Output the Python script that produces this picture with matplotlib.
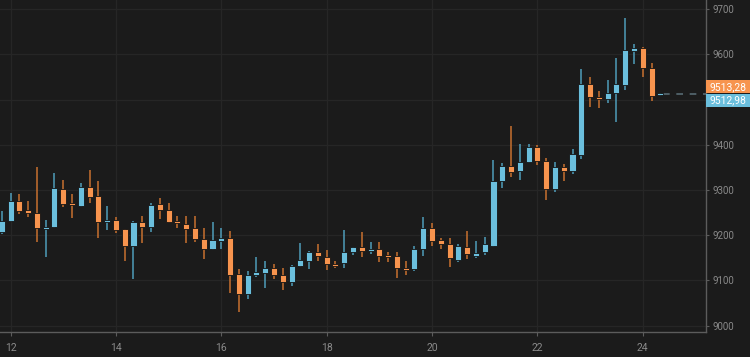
import numpy as np
import matplotlib
matplotlib.use("Agg")
import matplotlib.pyplot as plt
from matplotlib.patches import Rectangle

# 4h candles, first one at day 11 20:00
start_day = 11 + 20 / 24
step_day = 4 / 24

opens = [9207, 9232, 9275, 9255, 9249, 9213, 9219, 9302, 9271, 9265,
         9306, 9286, 9229, 9234, 9213, 9176, 9230, 9218, 9269, 9256,
         9232, 9226, 9215, 9191, 9170, 9188, 9194, 9114, 9070, 9112,
         9117, 9128, 9112, 9096, 9131, 9144, 9162, 9153, 9137, 9138,
         9163, 9174, 9165, 9170, 9156, 9155, 9128, 9125, 9170, 9216,
         9190, 9180, 9145, 9174, 9155, 9162, 9177, 9320, 9353, 9342,
         9361, 9396, 9364, 9302, 9351, 9343, 9378, 9535, 9506, 9502,
         9514, 9532, 9607, 9615, 9571, 9510.5]
highs = [9254, 9294, 9291, 9276, 9350, 9234, 9337, 9323, 9291, 9315,
         9344, 9320, 9265, 9240, 9214, 9232, 9243, 9272, 9283, 9272,
         9243, 9243, 9243, 9215, 9229, 9216, 9209, 9125, 9121, 9152,
         9142, 9136, 9127, 9134, 9183, 9166, 9181, 9168, 9143, 9212,
         9175, 9208, 9185, 9185, 9162, 9162, 9143, 9176, 9241, 9228,
         9193, 9193, 9181, 9210, 9187, 9197, 9366, 9360, 9442, 9401,
         9403, 9400, 9370, 9361, 9358, 9391, 9568, 9550, 9519, 9543,
         9593, 9680, 9623, 9616, 9581, 9514]
lows = [9203, 9230, 9246, 9241, 9186, 9153, 9215, 9263, 9239, 9263,
        9272, 9195, 9212, 9206, 9144, 9103, 9184, 9207, 9236, 9227,
        9215, 9184, 9186, 9148, 9167, 9169, 9072, 9030, 9059, 9108,
        9083, 9103, 9078, 9087, 9130, 9125, 9142, 9123, 9127, 9127,
        9156, 9153, 9159, 9140, 9140, 9105, 9111, 9120, 9155, 9176,
        9170, 9129, 9140, 9147, 9149, 9156, 9175, 9304, 9330, 9322,
        9359, 9355, 9278, 9296, 9319, 9335, 9368, 9484, 9482, 9492,
        9450, 9521, 9579, 9551, 9498, 9509]
closes = [9232, 9275, 9254, 9249, 9216, 9219, 9305, 9270, 9266, 9306,
          9285, 9229, 9234, 9212, 9176, 9230, 9218, 9268, 9256, 9230,
          9227, 9213, 9192, 9170, 9190, 9193, 9112, 9070, 9112, 9118,
          9128, 9111, 9096, 9131, 9145, 9162, 9154, 9136, 9131, 9162,
          9174, 9165, 9170, 9155, 9151, 9127, 9123, 9169, 9216, 9188,
          9181, 9149, 9176, 9158, 9160, 9180, 9320, 9353, 9341, 9361,
          9396, 9364, 9302, 9351, 9343, 9379, 9535, 9506, 9501, 9514,
          9535, 9609, 9614, 9571, 9508, 9512.98]

ask_price = 9513.28
last_price = 9512.98
x_ticks = [12, 14, 16, 18, 20, 22, 24]
y_ticks = [9000, 9100, 9200, 9300, 9400, 9500, 9600, 9700]

bg = "#1b1b1b"
up_col, up_wick = "#6bbfdd", "#4f9dba"
dn_col, dn_wick = "#f7944e", "#c8702f"

fig = plt.figure(figsize=(7.5, 3.57), dpi=100, facecolor=bg)
ax = fig.add_axes([0, 25 / 357, 706 / 750, 332 / 357], facecolor=bg)

o, h, l, c = map(np.array, (opens, highs, lows, closes))
t = start_day + np.arange(len(o)) * step_day
up = c >= o
body_cols = np.where(up, up_col, dn_col)
wick_cols = np.where(up, up_wick, dn_wick)

ax.vlines(t, l, h, colors=wick_cols, linewidth=1.1, zorder=2)
heights = np.maximum(np.abs(c - o), 3.5)
ax.bar(t, heights, bottom=np.minimum(o, c), width=0.115, color=body_cols,
       edgecolor="#141414", linewidth=0.6, zorder=3)

# dashed last-price line to the axis
ax.plot([t[-1] + 0.06, 25.3], [last_price, last_price], color="#566a72",
        linewidth=1.2, dashes=(4, 4), zorder=2)

ax.set_xlim(11.80, 25.20)
ax.set_ylim(8986, 9720.5)
ax.set_xticks(x_ticks)
ax.set_xticklabels([str(d) for d in x_ticks])
ax.set_yticks(y_ticks)
# the 9500 label sits under the price tags, so it is left blank
ax.set_yticklabels(["" if v == 9500 else str(v) for v in y_ticks])
ax.yaxis.tick_right()
ax.grid(color="#262626", linewidth=0.9, zorder=0)
for s in ("left", "top"):
    ax.spines[s].set_visible(False)
for s in ("bottom", "right"):
    ax.spines[s].set_color("#5c5c5c")
    ax.spines[s].set_linewidth(1.0)
ax.tick_params(axis="x", colors="#5c5c5c", labelcolor="#8a8a8a", length=3,
               pad=5, labelsize=7.5)
ax.tick_params(axis="y", colors="#5c5c5c", labelcolor="#8a8a8a", length=2,
               pad=3, labelsize=7)
for lab in ax.get_xticklabels() + ax.get_yticklabels():
    lab.set_fontfamily("Roboto")

# price tags on the right axis
tr = ax.get_yaxis_transform()
x1 = 750 / 706
ax.add_patch(Rectangle((1.0, last_price + 1), x1 - 1, 28.5, transform=tr,
                       facecolor=dn_col, edgecolor="none", clip_on=False, zorder=5))
ax.add_patch(Rectangle((1.0, last_price - 29.5), x1 - 1, 29, transform=tr,
                       facecolor=up_col, edgecolor="none", clip_on=False, zorder=5))
xc = (1 + x1) / 2
ax.text(xc, last_price + 15, f"{ask_price:.2f}".replace(".", ","), transform=tr,
        ha="center", va="center", color="white", fontsize=7.5, family="Roboto", zorder=6)
ax.text(xc, last_price - 15, f"{last_price:.2f}".replace(".", ","), transform=tr,
        ha="center", va="center", color="white", fontsize=7.5, family="Roboto", zorder=6)

fig.savefig("out.png", dpi=100, facecolor=bg)
